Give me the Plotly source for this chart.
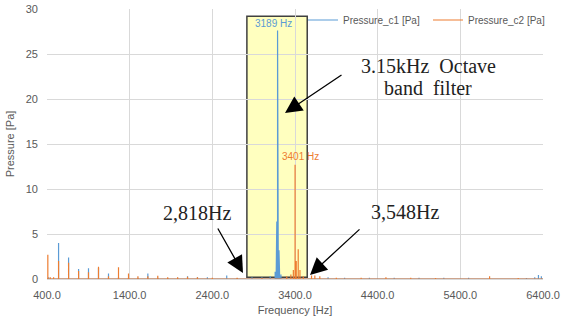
import plotly.graph_objects as go

# ---------------- data ----------------
c1_freq = [420, 540, 661, 782, 902, 1023, 1144, 1265, 1386, 1500, 1620, 1740, 1860, 1980, 2100, 2220,
           2340, 2574, 2700, 2880, 3000, 3100, 3160, 3172, 3180, 3189, 3198, 3206, 3215, 3230, 3300,
           3800, 4000, 4300, 4600, 4900, 5200, 5500, 6200, 6300, 6345, 6380]
c1_val = [0.2, 4.0, 2.4, 1.1, 1.2, 1.25, 0.6, 0.2, 0.1, 0.15, 0.6, 0.15, 0.1, 0.15, 0.3, 0.2,
          0.2, 0.4, 0.1, 0.2, 0.2, 0.3, 0.8, 2.0, 6.4, 27.6, 3.4, 3.2, 1.0, 0.5, 0.2,
          0.2, 0.15, 0.15, 0.15, 0.15, 0.15, 0.15, 0.1, 0.2, 0.45, 0.3]

c2_freq = [410, 440, 480, 540, 661, 782, 902, 1023, 1144, 1265, 1386, 1500, 1620, 1740, 1860, 1980,
           2100, 2220, 2400, 2700, 3000, 3300, 3350, 3380, 3401, 3415, 3439, 3460, 3500, 3600, 3640,
           3700, 3900, 4200, 4500, 4800, 5100, 5754, 6100]
c2_val = [2.7, 0.2, 0.2, 2.0, 1.8, 0.9, 0.75, 1.35, 0.3, 1.3, 0.6, 0.3, 0.3, 0.35, 0.2, 0.2,
          0.25, 0.2, 0.15, 0.15, 0.1, 0.3, 0.5, 1.0, 12.7, 2.0, 3.3, 1.0, 0.3, 0.4, 0.4,
          0.3, 0.15, 0.15, 0.2, 0.15, 0.1, 0.3, 0.1]

band_low = 2818
band_high = 3548
peak1_freq, peak1_val = 3189, 27.6
peak2_freq, peak2_val = 3401, 12.7
x_ticks = [400, 1400, 2400, 3400, 4400, 5400, 6400]
y_ticks = [0, 5, 10, 15, 20, 25, 30]

BLUE = "#5B9BD5"
ORANGE = "#ED7D31"
GRAY = "#595959"

# ------------- geometry: plot area in screen pixels (page body margin removed) -------------
SL, SR, ST, SB = 47, 543, 9, 279
W, H = 570, 324
L, T, R, B = SL, ST, W - SR, H - SB
PW, PH = SR - SL, SB - ST


def px(x):
    return (x - SL) / PW


def py(y):
    return (SB - y) / PH


def spikes(freqs, vals, lo, hi):
    xs, ys = [lo], [0]
    for f, v in sorted(zip(freqs, vals)):
        xs += [f, f, f]
        ys += [0, v, 0]
    xs.append(hi)
    ys.append(0)
    return xs, ys


fig = go.Figure()

x1, y1 = spikes(c1_freq, c1_val, x_ticks[0], x_ticks[-1])
x2, y2 = spikes(c2_freq, c2_val, x_ticks[0], x_ticks[-1])
fig.add_trace(go.Scatter(x=x1, y=y1, mode="lines", name="Pressure_c1 [Pa]",
                         line=dict(color=BLUE, width=1.2)))
fig.add_trace(go.Scatter(x=x2, y=y2, mode="lines", name="Pressure_c2 [Pa]",
                         line=dict(color=ORANGE, width=1.2)))

# octave band box
fig.add_shape(type="rect", xref="x", yref="y", x0=band_low, x1=band_high, y0=0.2, y1=29.2,
              fillcolor="rgba(255,255,170,0.75)", line=dict(color="#404040", width=1.5),
              layer="below")

serif = "Liberation Serif"
note_font = dict(family=serif, size=20, color="#222222")
ann = []
# peak labels
ann.append(dict(x=peak1_freq, y=peak1_val, xref="x", yref="y", text=f"{peak1_freq} Hz",
                showarrow=False, yshift=7, xshift=-4, xanchor="center",
                font=dict(family="Liberation Sans", size=10, color=BLUE)))
ann.append(dict(x=peak2_freq, y=peak2_val, xref="x", yref="y", text=f"{peak2_freq} Hz",
                showarrow=False, yshift=8, xshift=5, xanchor="center",
                font=dict(family="Liberation Sans", size=10, color=ORANGE)))
# notes
for text, cx, cy in [("3.15kHz  Octave", 428, 66), ("band  filter", 428, 88),
                     (f"{band_low:,}Hz", 197, 213), (f"{band_high:,}Hz", 405, 212)]:
    ann.append(dict(x=px(cx), y=py(cy), xref="paper", yref="paper", text=text,
                    xanchor="center", yanchor="middle", showarrow=False, font=note_font))
# arrows (tail -> tip)
for (tx, ty), (hx, hy) in [((343, 74), (285, 113)), ((217, 227), (243, 273)), ((361, 228), (310, 275))]:
    ann.append(dict(x=px(hx), y=py(hy), xref="paper", yref="paper",
                    ax=tx - hx, ay=ty - hy, axref="pixel", ayref="pixel",
                    text="", showarrow=True, arrowhead=2, arrowsize=2.6, arrowwidth=1.3,
                    arrowcolor="black", standoff=0))

fig.update_layout(
    width=W, height=H, margin=dict(l=L, r=R, t=T, b=B, autoexpand=False),
    paper_bgcolor="white", plot_bgcolor="white",
    font=dict(family="Liberation Sans", size=11, color=GRAY),
    annotations=ann,
    showlegend=True,
    legend=dict(orientation="h", x=px(303), y=py(20), xanchor="left", yanchor="middle",
                bgcolor="rgba(0,0,0,0)", font=dict(size=10, color=GRAY),
                entrywidth=80, entrywidthmode="pixels"),
)
fig.update_xaxes(range=[x_ticks[0], x_ticks[-1]], tickvals=x_ticks, tickformat=".1f",
                 showgrid=True, gridcolor="#D9D9D9", gridwidth=1, zeroline=False, automargin=False,
                 showline=True, linecolor="#D9D9D9", ticks="", ticklabelstandoff=6,
                 title=dict(text="Frequency [Hz]", font=dict(size=11, color=GRAY), standoff=6))
fig.update_yaxes(range=[0, 30], tickvals=y_ticks,
                 showgrid=True, gridcolor="#D9D9D9", gridwidth=1, zeroline=False, automargin=False,
                 showline=False, ticks="", ticklabelstandoff=8,
                 title=dict(text="Pressure [Pa]", font=dict(size=11, color=GRAY), standoff=8))

fig.write_html("out.html", config={"displayModeBar": False},
               post_script="document.body.style.margin='0px';")
